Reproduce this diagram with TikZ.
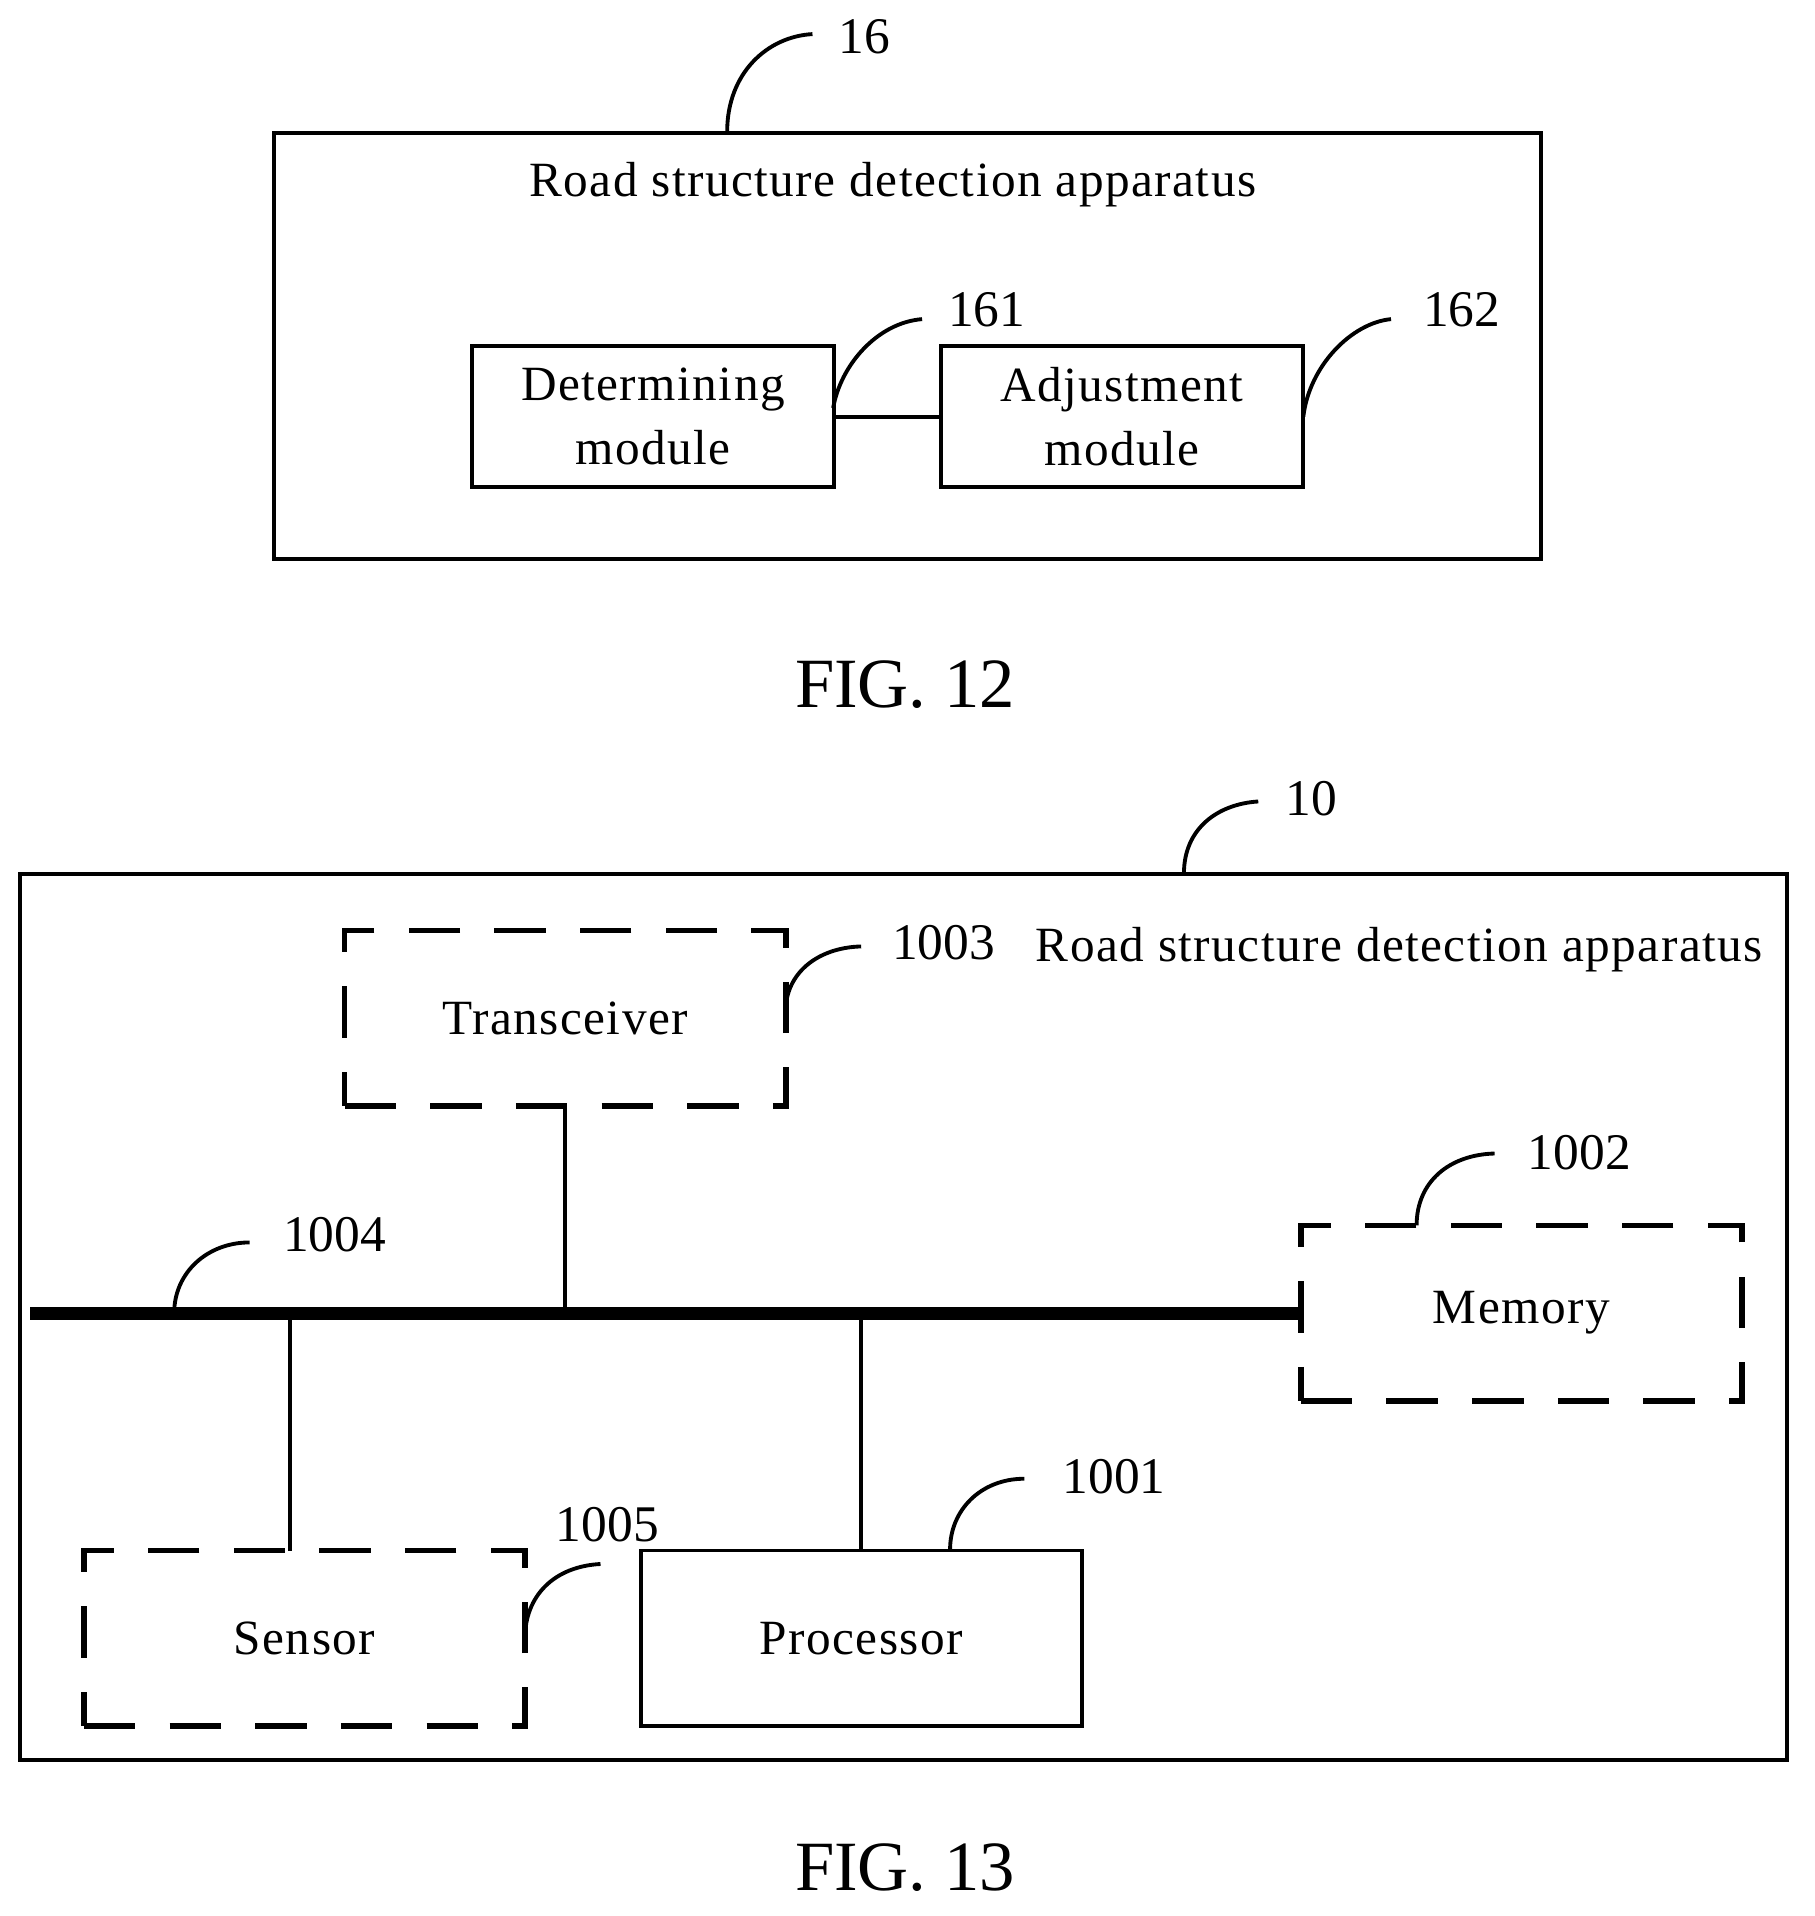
\documentclass[tikz,border=0pt]{standalone}
\usepackage{fontspec}
\setmainfont{Liberation Serif}
\usetikzlibrary{positioning}
\tikzset{
  box/.style={draw,line width=0.9pt,align=center,inner sep=0pt},
  dbox/.style={box,dash pattern=on 12pt off 8pt,line width=1.3pt},
  txt/.style={font=\fontsize{11.5}{15}\selectfont\addfontfeature{LetterSpace=3}},
  lbl/.style={font=\fontsize{12}{15}\selectfont,anchor=west},
  lead/.style={line width=0.9pt},
}
\begin{document}
\begin{tikzpicture}[x=0.01cm,y=-0.01cm]
\useasboundingbox (0,0) rectangle (1490,1573);
% FIG. 12
\node[box,minimum width=10.40cm,minimum height=3.50cm] (app) at (745,284) {};
\node[txt] (apptxt) at (733,152) {Road structure detection apparatus};
\node[box,txt,minimum width=2.97cm,minimum height=1.16cm] (det) at (536,342) {Determining\\module};
\node[box,txt,minimum width=2.97cm,minimum height=1.16cm] (adj) at (921,342) {Adjustment\\module};
\draw[line width=0.9pt] (det) -- (adj);
\coordinate (c16) at (667,28);
\draw[lead] (597,108) .. controls (597,60) and (630,30) .. (c16);
\node[lbl] (l16) at (676,30) {16};
\coordinate (c161) at (757,262);
\draw[lead] (684,335) .. controls (690,300) and (720,265) .. (c161);
\node[lbl] (l161) at (766,254) {161};
\coordinate (c162) at (1142,262);
\draw[lead] (1070,342) .. controls (1075,300) and (1110,265) .. (c162);
\node[lbl] (l162) at (1156,254) {162};
\node[font=\fontsize{16.5}{20}\selectfont] (fig12) at (743,562) {FIG. 12};
% FIG. 13
\node[box,minimum width=14.50cm,minimum height=7.27cm] (dev) at (742,1081) {};
\node[txt,anchor=west] (devtxt) at (838,780) {Road structure detection apparatus};
\node[dbox,txt,minimum width=3.62cm,minimum height=1.44cm] (trx) at (464,836) {Transceiver};
\node[dbox,txt,minimum width=3.62cm,minimum height=1.44cm] (mem) at (1249,1078) {Memory};
\node[dbox,txt,minimum width=3.62cm,minimum height=1.44cm] (sen) at (250,1345) {Sensor};
\node[box,txt,minimum width=3.62cm,minimum height=1.44cm] (pro) at (707,1345) {Processor};
\coordinate (busL) at (25,1078);
\draw[line width=3pt] (busL) -- (mem.west);
\draw[line width=0.9pt] (trx) -- (trx |- busL);
\draw[line width=0.9pt] (238,1078) -- (238,1273);
\draw[line width=0.9pt] (pro.north) -- (pro |- busL);
\coordinate (c10) at (1033,658);
\draw[lead] (972,717) .. controls (972,680) and (1000,660) .. (c10);
\node[lbl] (l10) at (1043,656) {10};
\coordinate (c1003) at (707,777);
\draw[lead] (645,830) .. controls (645,800) and (670,778) .. (c1003);
\node[lbl] (l1003) at (720,774) {1003};
\coordinate (c1002) at (1227,947);
\draw[lead] (1163,1006) .. controls (1163,970) and (1190,948) .. (c1002);
\node[lbl] (l1002) at (1242,946) {1002};
\coordinate (c1004) at (205,1020);
\draw[lead] (143,1078) .. controls (143,1045) and (170,1020) .. (c1004);
\node[lbl] (l1004) at (220,1014) {1004};
\coordinate (c1001) at (841,1214);
\draw[lead] (780,1272) .. controls (780,1240) and (805,1214) .. (c1001);
\node[lbl] (l1001) at (860,1212) {1001};
\coordinate (c1005) at (493,1284);
\draw[lead] (431,1345) .. controls (431,1310) and (455,1286) .. (c1005);
\node[lbl] (l1005) at (444,1252) {1005};
\node[font=\fontsize{16.5}{20}\selectfont] (fig13) at (743,1533) {FIG. 13};
\end{tikzpicture}
\end{document}
